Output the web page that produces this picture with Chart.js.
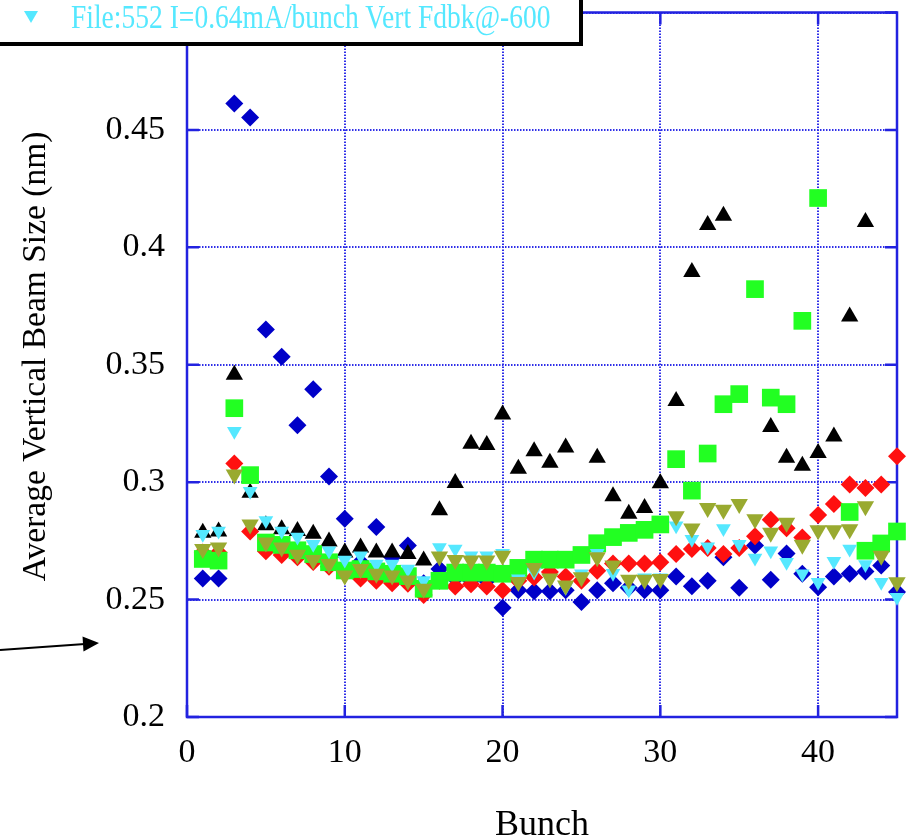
<!DOCTYPE html>
<html><head><meta charset="utf-8">
<script src="https://cdn.jsdelivr.net/npm/chart.js@4/dist/chart.umd.min.js"></script>
<style>
html,body{margin:0;padding:0;background:#fff;overflow:hidden}
#wrap{position:relative;width:910px;height:840px}
#legend{position:absolute;left:-10px;top:-10px;width:591px;height:54px;background:#fff;border:2px solid #000;box-shadow:2px 2px 0 #000;box-sizing:border-box;overflow:hidden}
#lmark{position:absolute;left:32px;top:19px;width:0;height:0;border-left:7px solid transparent;border-right:7px solid transparent;border-top:12px solid #55e8ff}
#ltext{position:absolute;left:79px;top:8px;font-family:"Liberation Serif",serif;font-size:34px;line-height:34px;color:#55e8ff;white-space:nowrap;transform:scaleX(0.81);transform-origin:left center}
</style>
</head><body>
<div id="wrap">
<canvas id="c" width="910" height="840"></canvas>
<div id="legend"><div id="lmark"></div><div id="ltext">File:552 I=0.64mA/bunch Vert Fdbk@-600</div></div>
</div>
<script>
const bunches = [1,2,3,4,5,6,7,8,9,10,11,12,13,14,15,16,17,18,19,20,21,22,23,24,25,26,27,28,29,30,31,32,33,34,35,36,37,38,39,40,41,42,43,44,45];
const blueDiamonds = [0.259,0.259,0.4612,0.4553,0.365,0.3534,0.3242,0.3396,0.3024,0.2844,
  0.266,0.2809,0.268,0.273,0.257,0.263,0.259,0.258,0.258,0.2465,
  0.254,0.2536,0.2536,0.254,0.249,0.254,0.257,0.255,0.254,0.254,
  0.2598,0.2557,0.258,0.268,0.255,0.273,0.2584,0.2696,0.261,0.2553,
  0.2598,0.261,0.262,0.2645,0.2532];
const redDiamonds = [0.270,0.270,0.308,0.279,0.2706,0.269,0.268,0.266,0.264,0.262,
  0.259,0.258,0.257,0.2567,0.252,0.258,0.2556,0.2565,0.2556,0.254,
  0.258,0.2594,0.2617,0.2598,0.258,0.2623,0.2654,0.2654,0.2654,0.2659,
  0.2694,0.2715,0.272,0.2694,0.272,0.277,0.284,0.2804,0.2764,0.286,
  0.2907,0.299,0.2975,0.299,0.311];
const blackTriangles = [0.2785,0.279,0.3457,0.2955,0.2817,0.280,0.2792,0.278,0.2747,0.270,
  0.2722,0.270,0.270,0.2694,0.2666,0.288,0.2996,0.3164,0.3158,0.3288,
  0.3057,0.3132,0.3083,0.3148,null,0.3104,0.294,0.2865,0.289,0.2995,
  0.3346,0.3895,0.4095,0.4135,null,null,0.3235,0.3104,0.307,0.3124,
  0.3194,0.3705,0.4108,null,null];
const greenSquares = [0.2673,0.2666,0.3315,0.303,0.2743,0.2733,0.271,0.2694,0.2659,0.2624,
  0.263,0.262,0.261,0.260,0.2546,0.258,0.2615,0.2615,0.2615,0.261,
  0.2635,0.267,0.267,0.267,0.269,0.2740,0.2766,0.2784,0.2797,0.282,
  0.3098,0.2964,0.3122,0.3332,0.3375,0.3822,0.336,0.3332,0.3687,0.421,
  null,0.2873,0.2708,0.2739,0.279];
const cyanTriangles = [0.2778,0.2792,0.3217,0.2961,0.2837,0.2792,0.2767,0.2736,0.2708,0.2669,
  0.2687,0.2652,0.2652,0.263,0.2581,0.2722,0.2715,0.2687,0.2687,0.2697,
  0.2589,0.2617,0.2589,0.2553,0.261,0.2697,0.2612,0.2542,0.2593,0.2593,
  0.2814,0.2757,0.2725,0.2803,0.2736,0.2677,0.2708,0.2659,0.261,0.2574,
  0.2663,0.2715,0.2649,0.2574,0.251];
const oliveTriangles = [0.2715,0.2722,0.3033,0.282,0.2743,0.2722,0.2691,0.2669,0.2652,0.2603,
  0.263,0.261,0.2603,0.2581,0.2546,0.2683,0.2669,0.2666,0.2666,0.2687,
  0.2575,0.2635,0.259,0.256,0.2595,0.268,0.2645,0.2584,0.2584,0.2588,
  0.2855,0.2803,0.289,0.2883,0.2907,0.2842,0.2785,0.2827,0.2733,0.2795,
  0.2795,0.280,0.2897,0.2687,0.2574];
const xTickLabels = ['0','10','20','30','40'];
const yTickLabels = ['0.2','0.25','0.3','0.35','0.4','0.45','0.5'];

const AXIS = '#2222e0';
const GRID = '#2e2ee8';
const FONT = '"Liberation Serif", "Times New Roman", serif';

function pts(arr){ return bunches.map((b,i)=>({x:b,y:arr[i]})).filter(p=>p.y!==null); }
function ds(arr,color,style,radius,rotation,order){
  return {data:pts(arr),backgroundColor:color,borderColor:color,pointStyle:style,pointRadius:radius,
    pointRotation:rotation,pointBorderWidth:0,showLine:false,clip:false,order:order,pointHoverRadius:radius};
}

const frame = {
  id:'frame',
  beforeDatasetsDraw(chart){
    const {ctx, chartArea:{left,right,top,bottom}, scales:{x,y}} = chart;
    ctx.save();
    ctx.strokeStyle = AXIS; ctx.lineWidth = 2.5;
    ctx.strokeRect(left,top,right-left,bottom-top);
    const L = 12;
    ctx.beginPath();
    y.ticks.forEach(t=>{ const py=y.getPixelForValue(t.value);
      ctx.moveTo(left,py); ctx.lineTo(left+L,py); ctx.moveTo(right,py); ctx.lineTo(right-L,py); });
    x.ticks.forEach(t=>{ const px=x.getPixelForValue(t.value);
      ctx.moveTo(px,bottom); ctx.lineTo(px,bottom-L); ctx.moveTo(px,top); ctx.lineTo(px,top+L); });
    ctx.stroke();
    ctx.restore();
  },
  afterDraw(chart){
    const ctx = chart.ctx;
    ctx.save();
    ctx.strokeStyle = '#000'; ctx.fillStyle = '#000'; ctx.lineWidth = 1.8;
    ctx.beginPath(); ctx.moveTo(0,650); ctx.lineTo(85,644); ctx.stroke();
    ctx.beginPath(); ctx.moveTo(99,643); ctx.lineTo(82.5,636.6); ctx.lineTo(83.5,651.4); ctx.closePath(); ctx.fill();
    ctx.restore();
  }
};

new Chart(document.getElementById('c'), {
  type:'scatter',
  data:{datasets:[
    ds(blueDiamonds,'#0000c8','rectRot',9,0,6),
    ds(redDiamonds,'#ff1010','rectRot',9,0,5),
    ds(blackTriangles,'#000000','triangle',10,0,4),
    ds(greenSquares,'#22ff22','rect',12.5,0,3),
    ds(cyanTriangles,'#55e8ff','triangle',8.5,180,2),
    ds(oliveTriangles,'#99aa30','triangle',10,180,1)
  ]},
  options:{
    responsive:false, animation:false, devicePixelRatio:1,
    layout:{padding:{top:7,right:13,left:0,bottom:0}},
    plugins:{legend:{display:false},tooltip:{enabled:false}},
    scales:{
      x:{type:'linear',min:0,max:45,
        afterFit(s){ s.height=123; s.paddingLeft=0; s.paddingRight=0; },
        ticks:{stepSize:10,includeBounds:false,padding:16,color:'#000',maxRotation:0,
          font:{family:FONT,size:34},callback:(v,i)=>xTickLabels[i]},
        grid:{color:GRID,lineWidth:2,drawTicks:false},
        border:{display:false,dash:[1.5,1.5]},
        title:{display:true,text:'Bunch',color:'#000',font:{family:FONT,size:36,lineHeight:0.78},padding:0}
      },
      y:{type:'linear',min:0.2,max:0.5,
        afterFit(s){ s.width=187; s.paddingTop=0; s.paddingBottom=0; },
        ticks:{stepSize:0.05,includeBounds:false,padding:22,color:'#000',
          font:{family:FONT,size:34},callback:(v,i)=>yTickLabels[i]},
        grid:{color:GRID,lineWidth:2,drawTicks:false},
        border:{display:false,dash:[1.5,1.5]},
        title:{display:true,text:'  Average Vertical Beam Size (nm)',color:'#000',
          font:{family:FONT,size:33.5,lineHeight:1},padding:{top:19,bottom:0}}
      }
    }
  },
  plugins:[frame]
});
</script>
</body></html>
